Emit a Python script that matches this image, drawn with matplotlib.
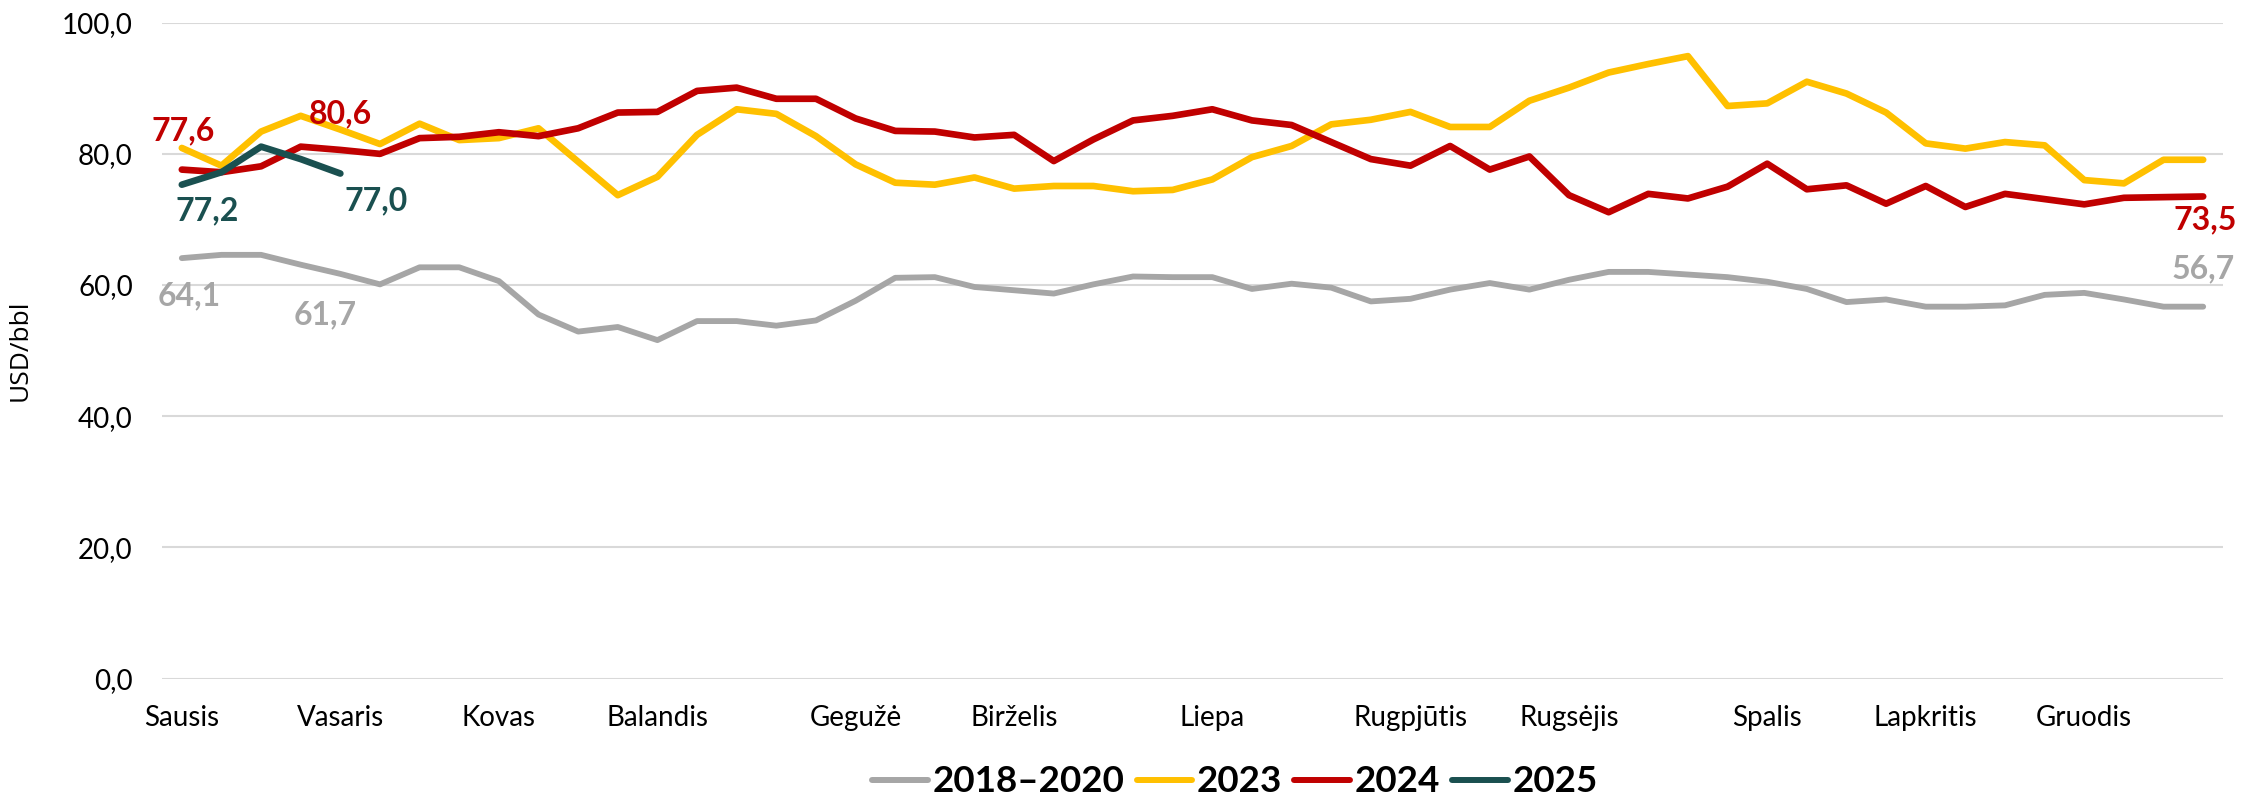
import matplotlib
matplotlib.use("Agg")
import matplotlib.pyplot as plt
from matplotlib.ticker import FuncFormatter

plt.rcParams['font.family'] = ['Lato', 'DejaVu Sans']

# ---- data -------------------------------------------------------------
weeks = list(range(52))
month_positions = [0, 4, 8, 12, 17, 21, 26, 31, 35, 40, 44, 48]
month_labels = ["Sausis", "Vasaris", "Kovas", "Balandis", "Gegužė", "Birželis",
                "Liepa", "Rugpjūtis", "Rugsėjis", "Spalis", "Lapkritis", "Gruodis"]

s_2018_2020 = [64.1, 64.6, 64.6, 63.1, 61.7, 60.1, 62.7, 62.7, 60.6, 55.5,
               52.9, 53.6, 51.6, 54.5, 54.5, 53.8, 54.6, 57.6, 61.1, 61.2,
               59.7, 59.2, 58.7, 60.1, 61.3, 61.2, 61.2, 59.4, 60.2, 59.6,
               57.5, 57.9, 59.3, 60.3, 59.3, 60.8, 62.0, 62.0, 61.6, 61.2,
               60.5, 59.4, 57.4, 57.8, 56.7, 56.7, 56.9, 58.5, 58.8, 57.8,
               56.7, 56.7]
s_2023 = [80.9, 78.2, 83.4, 85.8, 83.7, 81.5, 84.6, 82.1, 82.4, 83.9,
          78.8, 73.7, 76.5, 82.9, 86.8, 86.1, 82.7, 78.4, 75.6, 75.3,
          76.4, 74.7, 75.1, 75.1, 74.3, 74.5, 76.1, 79.5, 81.2, 84.5,
          85.2, 86.4, 84.1, 84.1, 88.1, 90.1, 92.4, 93.7, 94.9, 87.3,
          87.7, 91.0, 89.2, 86.3, 81.6, 80.8, 81.8, 81.3, 76.0, 75.5,
          79.1, 79.1]
s_2024 = [77.6, 77.2, 78.1, 81.1, 80.6, 80.0, 82.4, 82.6, 83.3, 82.7,
          83.9, 86.3, 86.4, 89.6, 90.1, 88.4, 88.4, 85.4, 83.5, 83.4,
          82.5, 82.9, 78.9, 82.2, 85.1, 85.8, 86.8, 85.1, 84.4, 81.8,
          79.2, 78.2, 81.2, 77.6, 79.6, 73.7, 71.1, 73.9, 73.2, 75.0,
          78.5, 74.6, 75.2, 72.4, 75.1, 71.9, 73.9, 73.1, 72.3, 73.3,
          73.4, 73.5]
s_2025 = [75.3, 77.2, 81.1, 79.2, 77.0]

series_names = ["2018–2020", "2023", "2024", "2025"]
series_colors = ["#A6A6A6", "#FFC000", "#C00000", "#1A5050"]
series_widths = [4.2, 4.8, 4.8, 4.8]

yticks = [0, 20, 40, 60, 80, 100]

# data labels: (series index, point index, dx px, dy px)
labels = [(2, 0, 1, 29), (2, 4, 0, 27), (3, 1, -14, -48), (3, 4, 36, -37),
          (0, 0, 7, -47), (0, 4, -15, -50), (2, 51, 2, -33), (0, 51, 0, 28)]

# ---- figure -----------------------------------------------------------
W, H = 2267, 798
fig = plt.figure(figsize=(W / 100, H / 100), dpi=100)
ax = fig.add_axes([162 / W, 1 - 678.5 / H, (2223 - 162) / W, (678.5 - 22.7) / H])

all_series = [s_2018_2020, s_2023, s_2024, s_2025]
lines = []
for vals, name, col, lw in zip(all_series, series_names, series_colors, series_widths):
    ln, = ax.plot(weeks[:len(vals)], vals, color=col, lw=lw, label=name,
                  solid_capstyle='round', solid_joinstyle='round', zorder=3)
    lines.append(ln)

for si, pi, dx, dy in labels:
    vals = all_series[si]
    ax.annotate(f"{vals[pi]:.1f}".replace('.', ','), xy=(weeks[pi], vals[pi]),
                xytext=(dx, dy), textcoords='offset pixels',
                ha='center', va='baseline', fontsize=23, fontweight='bold',
                color=series_colors[si], zorder=5)

ax.set_xlim(-0.5, 51.5)
ax.set_ylim(0, 100)
ax.set_yticks(yticks)
ax.yaxis.set_major_formatter(FuncFormatter(lambda v, p: f"{v:.1f}".replace('.', ',')))
ax.set_xticks(month_positions)
ax.set_xticklabels(month_labels)
ax.tick_params(axis='x', length=0, pad=19, labelsize=20)
ax.tick_params(axis='y', length=0, pad=21, labelsize=20)
ax.grid(axis='y', color='#D9D9D9', lw=1.5, zorder=0)
for sp in ax.spines.values():
    sp.set_visible(False)

ax.set_ylabel("USD/bbl", fontsize=19, family=['Open Sans', 'DejaVu Sans'])
ax.yaxis.set_label_coords(-0.0626, 0.5)

leg = fig.legend(handles=lines, loc='center', bbox_to_anchor=(1235 / W, 1 - 782 / H),
                 ncol=4, frameon=False, handlelength=1.52, handletextpad=0.12,
                 columnspacing=0.33, borderaxespad=0,
                 prop={'size': 26.5, 'weight': 'bold'})
for h in leg.legend_handles:
    h.set_linewidth(4.3)

fig.savefig("out.png", dpi=100)
